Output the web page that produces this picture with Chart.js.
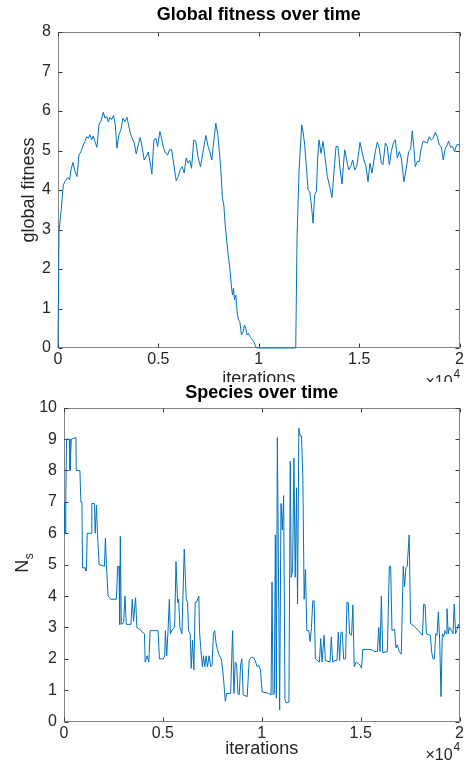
<!DOCTYPE html>
<html>
<head>
<meta charset="utf-8">
<script src="https://cdn.jsdelivr.net/npm/chart.js@4.4.1/dist/chart.umd.min.js"></script>
<style>
  html, body { margin: 0; padding: 0; background: #fff; }
  #page { position: relative; width: 466px; height: 761px; overflow: hidden; }
  #topWrap { position: absolute; left: 0; top: 0; width: 466px; height: 382px; overflow: hidden; }
  #botWrap { position: absolute; left: 0; top: 382px; width: 466px; height: 379px; background: #fff; }
  canvas { display: block; }
</style>
</head>
<body>
<div id="page">
  <div id="topWrap"><canvas id="fitnessChart" width="466" height="400" style="width:466px;height:400px"></canvas></div>
  <div id="botWrap"><canvas id="speciesChart" width="466" height="379" style="width:466px;height:379px"></canvas></div>
</div>
<script>
// values (x in iterations, 0 .. 2e4)
const xTicks = [0, 5000, 10000, 15000, 20000];

const fitIter = [0, 50, 149, 265, 348, 481, 580, 647, 746, 846, 945, 1045, 1144, 1260, 1343, 1426, 1509, 1592, 1675, 1758,
  1841, 1940, 2040, 2139, 2255, 2338, 2438, 2504, 2587, 2670, 2770, 2853, 2935, 3035, 3134, 3234, 3333, 3433, 3499, 3599,
  3698, 3798, 3897, 3997, 4096, 4196, 4295, 4395, 4494, 4594, 4677, 4776, 4876, 4959, 5075, 5158, 5258, 5357, 5457, 5557,
  5656, 5771, 5887, 5987, 6086, 6186, 6285, 6385, 6484, 6567, 6650, 6766, 6866, 6981, 7098, 7197, 7363, 7479, 7562, 7662,
  7728, 7861, 7960, 8093, 8193, 8259, 8325, 8392, 8474, 8557, 8640, 8690, 8740, 8790, 8856, 8922, 8989, 9055, 9138, 9221,
  9287, 9353, 9420, 9486, 9552, 9635, 9751, 9851, 9950, 11841, 11906, 12005, 12139, 12205, 12288, 12372, 12455, 12537, 12621, 12703,
  12786, 12870, 12935, 13000, 13100, 13200, 13283, 13415, 13515, 13648, 13747, 13847, 13946, 14046, 14145, 14278, 14378, 14477, 14577, 14676,
  14776, 14875, 14942, 15041, 15141, 15240, 15340, 15440, 15539, 15639, 15738, 15805, 15904, 16004, 16103, 16186, 16303, 16402, 16502, 16601,
  16701, 16801, 16900, 17000, 17099, 17232, 17348, 17462, 17562, 17646, 17727, 17794, 17894, 17994, 18093, 18193, 18292, 18392, 18491, 18591,
  18691, 18790, 18890, 18989, 19089, 19189, 19288, 19388, 19453, 19552, 19652, 19751, 19851, 19950, 20000];
const fitValue = [0, 2.95, 3.45, 4.13, 4.21, 4.32, 4.26, 4.51, 4.70, 4.47, 4.34, 4.89, 4.97, 5.14, 5.23, 5.35, 5.31, 5.40, 5.27, 5.37,
  5.23, 5.08, 5.65, 5.75, 5.97, 5.82, 5.86, 5.72, 5.84, 5.78, 5.89, 5.65, 5.06, 5.40, 5.52, 5.82, 5.73, 5.84, 5.69, 5.44,
  5.31, 5.19, 4.91, 5.14, 5.33, 5.06, 4.76, 4.85, 4.96, 4.68, 4.40, 5.27, 5.31, 5.10, 5.48, 5.31, 5.06, 4.93, 4.89, 5.02,
  5.02, 4.64, 4.23, 4.34, 4.51, 4.59, 4.43, 4.81, 4.68, 4.75, 4.55, 5.27, 5.23, 4.81, 4.59, 4.89, 5.38, 5.10, 4.97, 4.76,
  5.10, 5.69, 5.40, 4.64, 3.79, 3.62, 3.12, 2.78, 2.36, 2.02, 1.55, 1.34, 1.51, 1.22, 1.34, 0.92, 0.71, 0.67, 0.33, 0.41,
  0.58, 0.50, 0.33, 0.37, 0.29, 0.24, 0.16, 0.03, 0, 0, 2.78, 4.47, 5.65, 5.48, 5.14, 4.59, 4.00, 3.96, 3.62, 3.16,
  3.88, 3.96, 4.81, 5.27, 4.93, 5.23, 4.89, 4.34, 4.13, 3.81, 4.47, 5.10, 5.10, 4.55, 4.15, 5.02, 4.76, 4.51, 4.59, 4.76,
  4.51, 4.59, 4.81, 5.21, 4.97, 4.76, 4.59, 4.21, 4.68, 4.43, 4.76, 4.97, 5.21, 5.06, 4.68, 4.64, 5.19, 5.10, 4.64, 4.97,
  5.19, 5.27, 4.81, 4.97, 4.81, 4.21, 4.55, 4.97, 5.02, 5.50, 5.06, 4.59, 4.72, 4.72, 5.06, 5.24, 5.21, 5.19, 5.35, 5.27,
  5.31, 5.46, 5.35, 5.14, 5.10, 4.76, 5.06, 5.14, 5.24, 5.08, 5.10, 4.97, 5.14, 5.16, 5.10];

const nsIter = [0, 30, 60, 90, 130, 268, 302, 369, 603, 620, 804, 854, 905, 938, 1072, 1106, 1139, 1173, 1374, 1407,
  1541, 1575, 1642, 1692, 1776, 2044, 2094, 2144, 2228, 2312, 2362, 2647, 2714, 2781, 2814, 2848, 2898, 3015, 3082, 3149,
  3384, 3451, 3518, 3618, 3685, 3819, 3953, 4070, 4104, 4204, 4288, 4355, 4757, 4824, 5025, 5092, 5126, 5193, 5260, 5327,
  5377, 5494, 5595, 5662, 5745, 5796, 5863, 5963, 6080, 6181, 6248, 6298, 6382, 6432, 6499, 6566, 6633, 6700, 6818, 6851,
  6918, 7001, 7052, 7119, 7186, 7253, 7337, 7420, 7487, 7554, 7621, 7688, 7755, 7856, 7956, 8057, 8157, 8224, 8425, 8526,
  8593, 8660, 8727, 8794, 8861, 8928, 8995, 9062, 9263, 9363, 9464, 9564, 9665, 9765, 9849, 9933, 10017, 10352, 10469, 10519,
  10569, 10636, 10686, 10737, 10787, 10904, 10971, 11038, 11105, 11172, 11239, 11373, 11440, 11490, 11557, 11624, 11691, 11758, 11808, 11875,
  11942, 12009, 12076, 12143, 12210, 12277, 12378, 12445, 12512, 12579, 12646, 12713, 12914, 12981, 13048, 13149, 13216, 13450, 13517, 13584,
  13601, 13702, 13802, 13870, 13937, 14004, 14071, 14138, 14238, 14305, 14372, 14439, 14540, 14607, 14674, 14774, 14875, 14975, 15042, 15109,
  15377, 15545, 15712, 15846, 15913, 15980, 16047, 16114, 16349, 16449, 16516, 16583, 16717, 16784, 16851, 16952, 17052, 17153, 17220, 17287,
  17354, 17454, 17521, 17722, 17923, 18124, 18191, 18258, 18325, 18526, 18593, 18660, 18727, 18794, 18861, 18928, 18995, 19062, 19129, 19196,
  19263, 19330, 19364, 19431, 19497, 19598, 19665, 19732, 19799, 19866, 19933, 20000];
const nsValue = [6.0, 7.0, 6.0, 7.0, 9.0, 9.0, 8.0, 9.0, 9.05, 8.0, 8.0, 7.0, 7.0, 4.9, 4.9, 4.8, 4.95, 6.0, 6.0, 6.95,
  6.95, 6.0, 6.9, 6.0, 5.0, 4.95, 5.85, 5.0, 4.0, 3.95, 3.9, 3.9, 4.95, 4.95, 3.1, 5.9, 3.1, 3.15, 4.0, 3.1,
  3.1, 3.9, 3.2, 3.95, 3.0, 2.95, 2.85, 2.8, 1.9, 2.1, 1.9, 2.9, 2.9, 2.0, 2.0, 2.1, 2.9, 2.1, 2.9, 3.9,
  2.8, 2.95, 3.0, 5.1, 3.8, 3.9, 3.0, 2.8, 5.5, 3.9, 3.8, 2.9, 2.8, 1.7, 2.6, 1.65, 3.8, 3.8, 4.0, 2.9,
  2.3, 1.75, 2.1, 1.75, 2.1, 1.75, 2.1, 1.75, 1.8, 2.8, 2.9, 2.5, 2.3, 2.1, 2.0, 1.45, 0.65, 0.9, 0.9, 2.9,
  0.9, 1.9, 1.85, 0.9, 0.85, 1.8, 2.0, 0.85, 0.8, 1.95, 2.05, 2.05, 1.95, 1.75, 1.8, 1.65, 0.95, 0.9, 0.85, 4.45,
  0.85, 0.9, 5.95, 0.75, 9.05, 0.37, 6.95, 6.1, 7.2, 0.7, 0.6, 0.62, 8.3, 4.6, 4.8, 8.4, 4.6, 7.45, 3.75, 9.35,
  9.1, 9.1, 7.8, 3.9, 4.85, 2.9, 2.9, 2.55, 3.0, 3.85, 3.85, 2.0, 1.9, 2.65, 1.9, 2.75, 1.95, 1.9, 2.7, 1.9,
  1.9, 1.95, 1.95, 2.85, 1.95, 2.85, 2.85, 2.0, 2.0, 3.8, 3.8, 2.8, 2.75, 3.72, 1.75, 1.9, 1.85, 1.8, 1.7, 2.3,
  2.3, 2.3, 2.23, 2.23, 3.0, 2.23, 4.0, 2.2, 2.23, 4.95, 4.95, 2.9, 2.95, 2.35, 2.45, 2.23, 2.15, 4.95, 4.3, 4.9,
  4.95, 5.95, 3.13, 3.03, 2.9, 2.75, 3.75, 3.72, 2.8, 2.75, 2.2, 2.0, 2.0, 2.8, 2.75, 3.5, 2.6, 0.8, 2.8, 2.7,
  2.9, 2.8, 3.6, 2.8, 3.0, 2.9, 2.8, 3.75, 2.8, 2.9, 3.1, 3.0];

const FONT = "'Liberation Sans', Arial, Helvetica, sans-serif";
const TEXT = '#262626';
const LINE = '#0072BD';

function toPoints(xs, ys) {
    return xs.map((x, i) => ({x: x, y: ys[i]}));
}

// matlab-ish box: grey frame, inward ticks on all four sides (drawn under the line),
// then the x10^4 exponent and an optional subscripted y label
const matlabBox = {
    id: 'matlabBox',
    beforeDatasetsDraw(chart) {
        const {ctx, chartArea: a} = chart;
        const sx = chart.scales.x, sy = chart.scales.y;
        const L = Math.round(a.left) + 0.5, R = Math.round(a.right) - 0.5;
        const T = Math.round(a.top) + 0.5, B = Math.round(a.bottom) - 0.5;
        ctx.save();
        ctx.lineWidth = 1;
        ctx.strokeStyle = '#858585';
        ctx.strokeRect(L, T, R - L, B - T);

        ctx.strokeStyle = '#3a3a3a';
        ctx.beginPath();
        sx.ticks.forEach(t => {
            const p = Math.round(sx.getPixelForValue(t.value)) + 0.5;
            ctx.moveTo(p, B); ctx.lineTo(p, B - 4);
            ctx.moveTo(p, T); ctx.lineTo(p, T + 4);
        });
        sy.ticks.forEach(t => {
            const p = Math.round(sy.getPixelForValue(t.value)) + 0.5;
            ctx.moveTo(L, p); ctx.lineTo(L + 4, p);
            ctx.moveTo(R, p); ctx.lineTo(R - 4, p);
        });
        ctx.stroke();
        ctx.restore();
    },
    afterDraw(chart, args, opts) {
        const {ctx, chartArea: a} = chart;
        ctx.save();
        // exponent of the x axis
        ctx.fillStyle = TEXT;
        ctx.textBaseline = 'alphabetic';
        ctx.font = '16px ' + FONT;
        ctx.textAlign = 'right';
        ctx.fillText('\u00d710', a.right - 7, a.bottom + opts.expDy);
        ctx.font = '12px ' + FONT;
        ctx.textAlign = 'left';
        ctx.fillText('4', a.right - 6, a.bottom + opts.expDy - 9);

        if (opts.yLabel) {
            const mid = (a.top + a.bottom) / 2;
            ctx.translate(a.left - 36, mid + 8);
            ctx.rotate(-Math.PI / 2);
            ctx.font = '18px ' + FONT;
            ctx.fillText(opts.yLabel, 0, 0);
            const w = ctx.measureText(opts.yLabel).width;
            ctx.font = '12px ' + FONT;
            ctx.fillText(opts.yLabelSub, w + 0.5, 5);
        }
        ctx.restore();
    }
};

function xScale(titleText, titlePad, height) {
    return {
        type: 'linear', min: 0, max: 20000,
        grid: {display: false, drawTicks: false},
        border: {display: false},
        ticks: {
            stepSize: 5000, padding: 2, color: TEXT, maxRotation: 0, autoSkip: false,
            font: {family: FONT, size: 16},
            callback: v => String(v / 10000)
        },
        afterBuildTicks: s => { s.ticks = xTicks.map(v => ({value: v})); },
        title: {display: true, text: titleText, color: TEXT, font: {family: FONT, size: 18}, padding: {top: 0, bottom: titlePad}},
        afterFit: s => { s.height = height; }
    };
}

function yScale(max, width, title) {
    return {
        type: 'linear', min: 0, max: max,
        grid: {display: false, drawTicks: false},
        border: {display: false},
        ticks: {stepSize: 1, padding: 7, color: TEXT, font: {family: FONT, size: 16}},
        title: title,
        afterFit: s => { s.width = width; }
    };
}

new Chart(document.getElementById('fitnessChart'), {
    type: 'line',
    data: {
        datasets: [{
            label: 'global fitness',
            data: toPoints(fitIter, fitValue),
            borderColor: LINE, borderWidth: 1, pointRadius: 0, tension: 0, fill: false, clip: 2
        }]
    },
    options: {
        responsive: false, animation: false,
        layout: {padding: {left: 0, right: 6, top: 0, bottom: 0}},
        scales: {
            x: xScale('iterations', 10, 52),
            y: yScale(8, 58, {display: true, text: 'global fitness', color: TEXT, font: {family: FONT, size: 18}, padding: {top: 18, bottom: 0}})
        },
        plugins: {
            legend: {display: false},
            tooltip: {enabled: false},
            title: {display: true, fullSize: false, text: 'Global fitness over time', color: '#000', font: {family: FONT, size: 18, weight: 'bold'}, padding: {top: 4, bottom: 6.4}},
            matlabBox: {expDy: 39}
        }
    },
    plugins: [matlabBox]
});

new Chart(document.getElementById('speciesChart'), {
    type: 'line',
    data: {
        datasets: [{
            label: 'N_s',
            data: toPoints(nsIter, nsValue),
            borderColor: LINE, borderWidth: 1, pointRadius: 0, tension: 0, fill: false, clip: 2
        }]
    },
    options: {
        responsive: false, animation: false,
        layout: {padding: {left: 0, right: 4, top: 0, bottom: 0}},
        scales: {
            x: xScale('iterations', 1, 39.3),
            y: yScale(10, 64, {display: false})
        },
        plugins: {
            legend: {display: false},
            tooltip: {enabled: false},
            title: {display: true, fullSize: false, text: 'Species over time', color: '#000', font: {family: FONT, size: 18, weight: 'bold'}, padding: {top: 0, bottom: 4.1}},
            matlabBox: {expDy: 38.5, yLabel: 'N', yLabelSub: 's'}
        }
    },
    plugins: [matlabBox]
});
</script>
</body>
</html>
